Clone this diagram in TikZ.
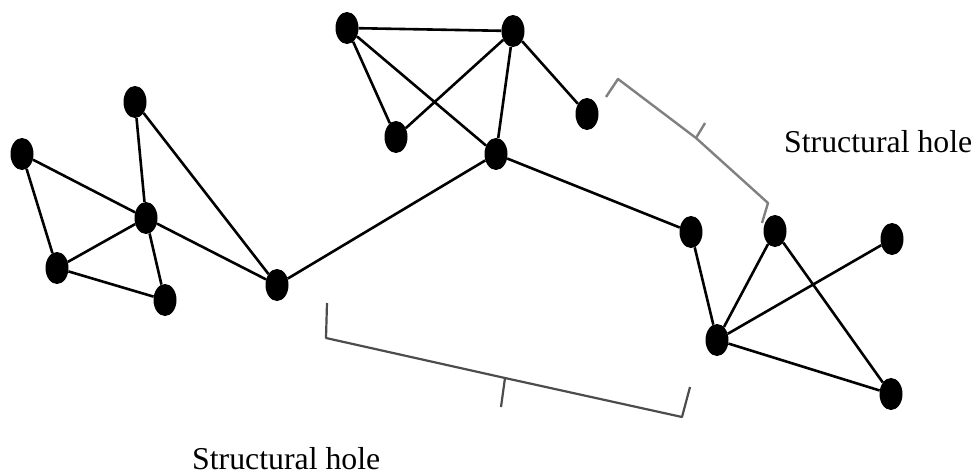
\documentclass[tikz,border=0pt]{standalone}
\usepackage{fontspec}
\setmainfont{Liberation Serif}
\usetikzlibrary{shapes.geometric}
\begin{document}
\begin{tikzpicture}[x=1pt,y=-1pt,
  vert/.style={ellipse,fill=black,draw=none,minimum width=23pt,minimum height=32pt,inner sep=0pt},
  edge/.style={line width=2.6pt},
  brk/.style={line width=2.2pt,black!70,line join=round},
  brklight/.style={line width=2.4pt,black!50,line join=round},
  lbl/.style={font=\fontsize{31.8}{34}\selectfont,inner sep=0pt,anchor=base west}]
\useasboundingbox (0,0) rectangle (976,474);
% left cluster
\node[vert] (A) at (22,154) {};
\node[vert] (B) at (135,102) {};
\node[vert] (C) at (146,218) {};
\node[vert] (D) at (57,268) {};
\node[vert] (E) at (165,300) {};
\node[vert] (F) at (277,285) {};
% top cluster
\node[vert] (H) at (347,28) {};
\node[vert] (I) at (513,31) {};
\node[vert] (J) at (396,137) {};
\node[vert] (K) at (587,114) {};
\node[vert] (G) at (496,154) {};
% right cluster
\node[vert] (L) at (691,232) {};
\node[vert] (M) at (775,231) {};
\node[vert] (N) at (892,239) {};
\node[vert] (O) at (717,340) {};
\node[vert] (P) at (891,394) {};
% edges
\draw[edge] (A) -- (C);
\draw[edge] (A) -- (D);
\draw[edge] (B) -- (C);
\draw[edge] (B) -- (F);
\draw[edge] (C) -- (D);
\draw[edge] (C) -- (E);
\draw[edge] (C) -- (F);
\draw[edge] (D) -- (E);
\draw[edge] (F) -- (G);
\draw[edge] (H) -- (I);
\draw[edge] (H) -- (J);
\draw[edge] (H) -- (G);
\draw[edge] (I) -- (J);
\draw[edge] (I) -- (G);
\draw[edge] (I) -- (K);
\draw[edge] (G) -- (L);
\draw[edge] (L) -- (O);
\draw[edge] (M) -- (O);
\draw[edge] (O) -- (N);
\draw[edge] (O) -- (P);
\draw[edge] (M) -- (P);
% top bracket
\coordinate (t1) at (606,97);
\coordinate (t2) at (618,79);
\coordinate (t3) at (696,138);
\coordinate (t4) at (705,123);
\coordinate (t5) at (768,203);
\coordinate (t6) at (762,223);
\draw[brklight] (t1) -- (t2) -- (t3) -- (t5) -- (t6);
\draw[brklight] (t3) -- (t4);
% bottom bracket
\coordinate (b1) at (327,303);
\coordinate (b2) at (326,338);
\coordinate (b3) at (505,378);
\coordinate (b4) at (501,407);
\coordinate (b5) at (682,417);
\coordinate (b6) at (690,387);
\draw[brk] (b1) -- (b2) -- (b3) -- (b5) -- (b6);
\draw[brk] (b3) -- (b4);
% labels
\node[lbl] (s1) at (784,152) {Structural hole};
\node[lbl] (s2) at (192,469) {Structural hole};
\end{tikzpicture}
\end{document}
